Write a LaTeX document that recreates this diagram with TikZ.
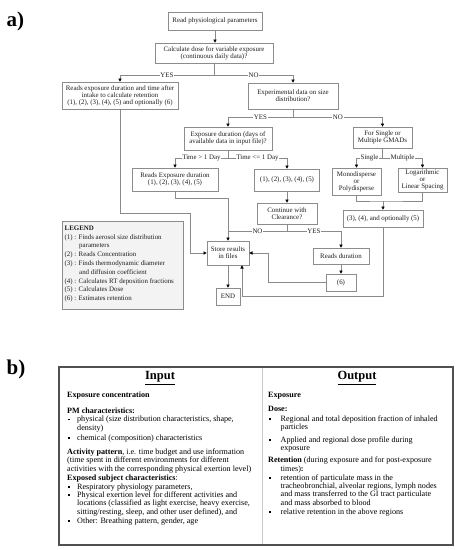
\documentclass[tikz,border=0pt]{standalone}
\usepackage{fontspec}
\setmainfont{Liberation Serif}
\usetikzlibrary{arrows.meta}
\definecolor{boxgray}{HTML}{8C8C8C}
\definecolor{linegray}{HTML}{8A8A8A}
\definecolor{leggray}{HTML}{F3F3F3}
\definecolor{txtgray}{HTML}{1E1E1E}
\definecolor{tblborder}{HTML}{505050}
\definecolor{tbldiv}{HTML}{C8C8C8}
\newcommand{\fa}{\fontsize{6.9}{7.1}\selectfont}
\newcommand{\fb}{\fontsize{8.1}{8.4}\selectfont}
\newcommand{\bulL}{\makebox[9pt][l]{\rule[1.4pt]{1.9pt}{1.9pt}}}
\newcommand{\bulR}{\makebox[11.5pt][l]{\rule[1.4pt]{1.9pt}{1.9pt}}}
\begin{document}
\begin{tikzpicture}[x=1pt,y=-1pt,
  fbox/.style={draw=boxgray, line width=0.6pt, fill=white, inner sep=1pt, align=center, font=\fa, text=txtgray},
  ln/.style={draw=linegray, line width=0.6pt},
  arr/.style={ln, -{Triangle[length=3.2pt,width=3.2pt,color=black]}},
  lab/.style={fill=white, inner sep=0.8pt, font=\fa, text=txtgray},
  tb/.style={font=\fb, anchor=base west, inner sep=0pt, text=black},
  hd/.style={font=\fontsize{12.5}{14}\selectfont\bfseries, inner sep=0pt, text=black},
  panel/.style={font=\fontsize{21}{24}\selectfont\bfseries, anchor=base west, inner sep=0pt},
]
\useasboundingbox[fill=white] (0,0) rectangle (459,550);

% ---------- panel a ----------
\node[panel] (pa) at (6.5,26.5) {a)};

\node[fbox, minimum width=94pt, minimum height=18pt] (b1) at (215,21) {Read physiological parameters};
\node[fbox, minimum width=118pt, minimum height=20pt] (q2) at (214,53) {Calculate dose for variable exposure\\(continuous daily data)?};
\node[fbox, minimum width=116pt, minimum height=27pt] (b3) at (120,95.5) {Reads exposure duration and time after\\intake to calculate retention\\(1), (2), (3), (4), (5) and optionally (6)};
\node[fbox, minimum width=90pt, minimum height=26pt] (q4) at (293,96) {Experimental data on size\\distribution?};
\node[fbox, minimum width=88pt, minimum height=23pt] (q5) at (228,138.5) {Exposure duration (days of\\available data in input file)?};
\node[fbox, minimum width=59pt, minimum height=21pt] (q6) at (382.5,137.5) {For Single or\\Multiple GMADs};
\node[fbox, minimum width=86pt, minimum height=23pt] (b7) at (175,179.5) {Reads Exposure duration\\(1), (2), (3), (4), (5)};
\node[fbox, minimum width=65pt, minimum height=22pt] (b8) at (287,180) {(1), (2), (3), (4), (5)};
\node[fbox, minimum width=49pt, minimum height=27pt] (b9) at (356.5,181.5) {Monodisperse\\or\\Polydisperse};
\node[fbox, minimum width=49pt, minimum height=24pt] (b10) at (422.5,180) {Logarithmic\\or\\Linear Spacing};
\node[fbox, minimum width=60pt, minimum height=21pt] (q11) at (287,213.5) {Continue with\\Clearance?};
\node[fbox, minimum width=80pt, minimum height=17pt] (b12) at (383,218.5) {(3), (4), and optionally (5)};
\node[fbox, minimum width=42pt, minimum height=24pt] (store) at (228,253) {Store results\\in files};
\node[fbox, minimum width=56pt, minimum height=16pt] (b14) at (341,256) {Reads duration};
\node[fbox, minimum width=30pt, minimum height=17pt] (b15) at (341,282.5) {(6)};
\node[fbox, minimum width=24pt, minimum height=17pt] (end) at (228,296.5) {END};

\node[draw=boxgray, line width=0.6pt, fill=leggray, minimum width=121pt, minimum height=88pt, inner sep=0pt] (legend) at (122.5,265) {};
\node[anchor=north west, align=left, inner sep=0pt, font=\fontsize{6.9}{8.8}\selectfont, text=txtgray] (legtext) at (64.5,225.5) {\textbf{LEGEND}\\
(1) : Finds aerosol size distribution\\
\hspace*{14.5pt}parameters\\
(2) : Reads Concentration\\
(3) : Finds thermodynamic diameter\\
\hspace*{14.5pt}and diffusion coefficient\\
(4) : Calculates RT deposition fractions\\
(5) : Calculates Dose\\
(6) : Estimates retention};

% connectors
\draw[arr] (b1.south) -- (b1.south |- q2.north);

\coordinate (j2) at (214,75);
\draw[ln] (q2.south) -- (j2);
\draw[arr] (j2) -| node[lab,pos=0.25]{YES} (b3.north);
\draw[arr] (j2) -| node[lab,pos=0.25]{NO} (q4.north);

\coordinate (j4) at (293,117);
\draw[ln] (q4.south) -- (j4);
\draw[arr] (j4) -| node[lab,pos=0.25]{YES} (q5.north);
\draw[arr] (j4) -| node[lab,pos=0.25]{NO} (q6.north);

\coordinate (j5) at (228,158);
\draw[ln] (q5.south) -- (j5);
\draw[arr] (j5) -| node[lab,pos=0.25]{Time > 1 Day} (b7.north);
\draw[arr] (j5) -| node[lab,pos=0.25]{Time <= 1 Day} (b8.north);

\coordinate (j6) at (382.5,158);
\draw[ln] (q6.south) -- (j6);
\draw[arr] (j6) -| node[lab,pos=0.25]{Single} (b9.north);
\draw[arr] (j6) -| node[lab,pos=0.25]{Multiple} (b10.north);

\coordinate (j910) at (383,201);
\draw[ln] (b9.south) |- (j910) -| (b10.south);
\draw[arr] (j910) -- (b12.north);

\draw[arr] (b8.south) -- (q11.north);

\coordinate (j11) at (287,231);
\coordinate (c11) at (228,231);
\draw[ln] (q11.south) -- (j11);
\draw[ln] (j11) -- node[lab]{NO} (c11);
\draw[arr] (j11) -| node[lab,pos=0.25]{YES} (b14.north);

\coordinate (c7) at (228,198);
\draw[ln] (b7.south) |- (c7);
\draw[arr] (c7) -- (store.north);

\coordinate (c3) at (190,213);
\draw[arr] (b3.south) |- (c3) |- (store.west);

\draw[arr] (b14.south) -- (b15.north);
\coordinate (c15) at (268,253);
\draw[arr] (b15.west) -| (c15) -- (store.east);

\coordinate (c12) at (242,296);
\draw[arr] (b12.south) |- (c12) -- (c12 |- store.south);

\draw[arr] (store.south) -- (end.north);

% ---------- panel b ----------
\node[panel] (pb) at (6.5,374) {b)};
\node[draw=tblborder, line width=1.1pt, minimum width=394pt, minimum height=178pt, inner sep=0pt] (tbl) at (256,456) {};
\draw[draw=tbldiv, line width=0.9pt] (262,367.6) -- (262,544.4);

\node[hd] (hin) at (160,378) {\underline{Input}};
\node[hd] (hout) at (357,378) {\underline{Output}};

\node[tb] (l1) at (67,397.2) {\textbf{Exposure concentration}};
\node[tb] (l2) at (67,413.5) {\textbf{PM characteristics:}};
\node[tb] (l3) at (68,421.8) {\bulL physical (size distribution characteristics, shape,};
\node[tb] (l4) at (77,430.5) {density)};
\node[tb] (l5) at (68,440.2) {\bulL chemical (composition) characteristics};
\node[tb] (l6) at (67,454.2) {\textbf{Activity pattern}, i.e. time budget and use information};
\node[tb] (l7) at (67,462.5) {(time spent in different environments for different};
\node[tb] (l8) at (67,471.2) {activities with the corresponding physical exertion level)};
\node[tb] (l9) at (67,480.8) {\textbf{Exposed subject characteristics}:};
\node[tb] (l10) at (68,489.2) {\bulL Respiratory physiology parameters,};
\node[tb] (l11) at (68,497.5) {\bulL Physical exertion level for different activities and};
\node[tb] (l12) at (77,505.8) {locations (classified as light exercise, heavy exercise,};
\node[tb] (l13) at (77,514.2) {sitting/resting, sleep, and other user defined), and};
\node[tb] (l14) at (68,523.2) {\bulL Other: Breathing pattern, gender, age};

\node[tb] (r1) at (268,397.5) {\textbf{Exposure}};
\node[tb] (r2) at (268,411.5) {\textbf{Dose:}};
\node[tb] (r3) at (269,421.5) {\bulR Regional and total deposition fraction of inhaled};
\node[tb] (r4) at (280.5,429.8) {particles};
\node[tb] (r5) at (269,442.5) {\bulR Applied and regional dose profile during};
\node[tb] (r6) at (280.5,450.8) {exposure};
\node[tb] (r7) at (268,462.5) {\textbf{Retention} (during exposure and for post-exposure};
\node[tb] (r8) at (280.5,471.5) {times)\textbf{:}};
\node[tb] (r9) at (269,480.2) {\bulR retention of particulate mass in the};
\node[tb] (r10) at (280.5,488.5) {tracheobronchial, alveolar regions, lymph nodes};
\node[tb] (r11) at (280.5,496.8) {and mass transferred to the GI tract particulate};
\node[tb] (r12) at (280.5,505.2) {and mass absorbed to blood};
\node[tb] (r13) at (269,514.2) {\bulR relative retention in the above regions};
\end{tikzpicture}
\end{document}
